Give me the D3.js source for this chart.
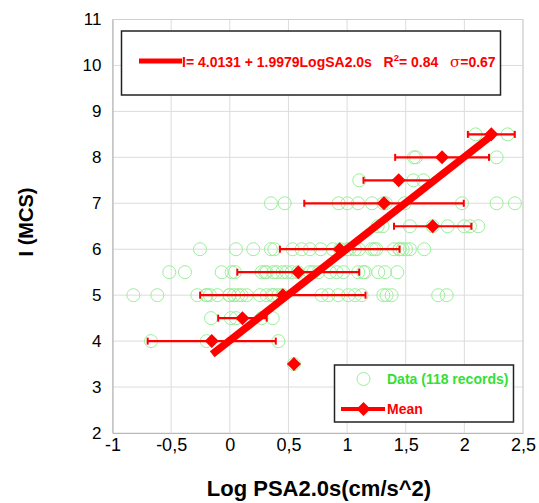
<!DOCTYPE html>
<html>
<head>
<meta charset="utf-8">
<script src="https://cdn.jsdelivr.net/npm/d3@7/dist/d3.min.js"></script>
<style>
  html, body { margin: 0; padding: 0; background: #fff; }
  svg { display: block; font-family: Arial, "Liberation Sans", sans-serif; }
</style>
</head>
<body>
<svg id="chart" width="539" height="503"></svg>
<script>
// Individual records: intensity level and log PSA(2.0 s) values at that level
const levels = [8.5, 8, 7.5, 7, 6.5, 6, 5.5, 5, 4.5, 4, 3.5];
const recordsByLevel = [
  [2.096, 2.369],
  [1.570, 1.587, 2.275],
  [1.104, 1.565, 1.650],
  [0.351, 0.468, 0.928, 1.002, 1.093, 1.212, 1.310, 1.330, 1.491, 1.980, 2.275, 2.431],
  [1.261, 1.303, 1.536, 1.730, 1.857, 1.999, 2.048, 2.119],
  [-0.254, 0.053, 0.200, 0.351, 0.380, 0.536, 0.613, 0.684, 0.775, 0.877, 0.940, 1.000,
   1.020, 1.067, 1.100, 1.210, 1.232, 1.250, 1.400, 1.445, 1.450, 1.474, 1.502, 1.536, 1.658],
  [-0.516, -0.382, -0.069, 0.016, 0.044, 0.272, 0.300, 0.314, 0.371, 0.400, 0.450, 0.485,
   0.528, 0.580, 0.684, 0.712, 0.755, 0.854, 0.911, 0.968, 1.095, 1.138, 1.153, 1.266, 1.323, 1.428],
  [-0.822, -0.618, -0.277, -0.200, -0.197, -0.169, -0.106, -0.004, 0.000, 0.036, 0.072, 0.100,
   0.144, 0.257, 0.314, 0.360, 0.377, 0.413, 0.450, 0.783, 0.840, 0.925, 1.010, 1.067, 1.124,
   1.309, 1.337, 1.380, 1.777, 1.849],
  [-0.160, 0.008, 0.053, 0.272, 0.366],
  [-0.672, -0.197, 0.414],
  [0.547]
];

// Mean log PSA per intensity level with its standard deviation
const meanLevels = [8.5, 8, 7.5, 7, 6.5, 6, 5.5, 5, 4.5, 4, 3.5];
const meanLogPSA = [2.23, 1.81, 1.44, 1.315, 1.73, 0.937, 0.584, 0.452, 0.108, -0.154, 0.547];
const sdLogPSA   = [0.20, 0.40, 0.30, 0.68, 0.33, 0.51, 0.52, 0.705, 0.207, 0.546, 0];

// Regression I = a + b * LogSA2.0s
const fitA = 4.0131, fitB = 1.9979;
const fitRange = [-0.15, 2.24];

const xTicks = [-1, -0.5, 0, 0.5, 1, 1.5, 2, 2.5];
const yTicks = [2, 3, 4, 5, 6, 7, 8, 9, 10, 11];

const svg = d3.select("#chart");
const x = d3.scaleLinear().domain([-1, 2.5]).range([112.5, 523]);
const y = d3.scaleLinear().domain([2, 11]).range([433, 19.5]);
const fmt = d => String(d).replace(".", ",");

// grid
const grid = svg.append("g");
grid.selectAll("line.gx").data(xTicks).join("line")
  .attr("x1", d => x(d)).attr("x2", d => x(d))
  .attr("y1", y(11)).attr("y2", y(2))
  .attr("stroke", "#dcdcdc").attr("stroke-width", 1);
grid.selectAll("line.gy").data(yTicks).join("line")
  .attr("x1", x(-1)).attr("x2", x(2.5))
  .attr("y1", d => y(d)).attr("y2", d => y(d))
  .attr("stroke", "#dcdcdc").attr("stroke-width", 1);

// axes
const xAxis = d3.axisBottom(x).tickValues(xTicks).tickFormat(fmt).tickSize(0).tickPadding(5.5);
const yAxis = d3.axisLeft(y).tickValues(yTicks).tickFormat(d => d).tickSize(0).tickPadding(11);
const gx = svg.append("g").attr("transform", `translate(0,${y(2)})`).call(xAxis);
const gy = svg.append("g").attr("transform", `translate(${x(-1)},0)`).call(yAxis);
[gx, gy].forEach(g => {
  g.attr("font-size", null).attr("font-family", null);
  g.select(".domain").attr("stroke", "#b8b8b8").attr("stroke-width", 1.2);
  g.selectAll("text").attr("fill", "#000");
});
gx.selectAll("text").attr("font-size", 18);
gy.selectAll("text").attr("font-size", 17);

// data records
const records = [];
levels.forEach((lv, i) => recordsByLevel[i].forEach(v => records.push({ x: v, y: lv })));
svg.append("g").selectAll("circle").data(records).join("circle")
  .attr("cx", d => x(d.x)).attr("cy", d => y(d.y)).attr("r", 6.5)
  .attr("fill", "none").attr("stroke", "#9dee9d").attr("stroke-width", 1);

// regression line
svg.append("line")
  .attr("x1", x(fitRange[0])).attr("y1", y(fitA + fitB * fitRange[0]))
  .attr("x2", x(fitRange[1])).attr("y2", y(fitA + fitB * fitRange[1]))
  .attr("stroke", "#ff0000").attr("stroke-width", 7.5);

// mean markers with ±1 sd error bars
const means = meanLevels.map((lv, i) => ({ y: lv, x: meanLogPSA[i], sd: sdLogPSA[i] }));
const bars = svg.append("g").attr("stroke", "#ff0000");
means.filter(d => d.sd > 0).forEach(d => {
  const cy = y(d.y), x0 = x(d.x - d.sd), x1 = x(d.x + d.sd);
  bars.append("line").attr("x1", x0).attr("x2", x1).attr("y1", cy).attr("y2", cy).attr("stroke-width", 2.2);
  [x0, x1].forEach(xx => bars.append("line").attr("x1", xx).attr("x2", xx)
    .attr("y1", cy - 3.5).attr("y2", cy + 3.5).attr("stroke-width", 2));
});
const diamond = d3.symbol().type(d3.symbolSquare).size(98);
svg.append("g").selectAll("path").data(means).join("path")
  .attr("d", diamond)
  .attr("transform", d => `translate(${x(d.x)},${y(d.y)}) rotate(45)`)
  .attr("fill", "#ff0000");

// plot frame (top and right)
svg.append("path")
  .attr("d", `M${x(-1)},${y(11)}H${x(2.5)}V${y(2)}`)
  .attr("fill", "none").attr("stroke", "#cfcfcf").attr("stroke-width", 1);

// axis titles
svg.append("text").attr("x", 319).attr("y", 496).attr("text-anchor", "middle")
  .attr("font-size", 22).attr("font-weight", "bold").text("Log PSA2.0s(cm/s^2)");
svg.append("text").attr("transform", "translate(33,222) rotate(-90)").attr("text-anchor", "middle")
  .attr("font-size", 20).attr("font-weight", "bold").text("I (MCS)");

// regression legend
const lg1 = svg.append("g");
lg1.append("rect").attr("x", 121.5).attr("y", 31).attr("width", 379).attr("height", 64)
  .attr("fill", "#fff").attr("stroke", "#222").attr("stroke-width", 1.5);
lg1.append("line").attr("x1", 139).attr("x2", 182).attr("y1", 61).attr("y2", 61)
  .attr("stroke", "#ff0000").attr("stroke-width", 5);
const eq = lg1.append("text").attr("x", 182).attr("y", 67).attr("fill", "#ff0000")
  .attr("font-size", 14).attr("font-weight", "bold").attr("xml:space", "preserve");
eq.append("tspan").text(`I= ${fitA.toFixed(4)} + ${fitB.toFixed(4)}LogSA2.0s   R`);
eq.append("tspan").attr("font-size", 9.5).attr("dy", -6).text("2");
eq.append("tspan").attr("dy", 6).text("= 0.84   ");
eq.append("tspan").attr("font-weight", "normal").attr("font-family", "'DejaVu Serif', serif").attr("font-size", 15).text("σ");
eq.append("tspan").text("=0.67");

// series legend
const lg2 = svg.append("g");
lg2.append("rect").attr("x", 334.5).attr("y", 365).attr("width", 179).attr("height", 57)
  .attr("fill", "#fff").attr("stroke", "#222").attr("stroke-width", 1.5);
lg2.append("circle").attr("cx", 363.5).attr("cy", 379).attr("r", 6.5)
  .attr("fill", "none").attr("stroke", "#9dee9d").attr("stroke-width", 1);
lg2.append("text").attr("x", 387).attr("y", 384).attr("fill", "#33e033")
  .attr("font-size", 14).attr("font-weight", "bold").text("Data (118 records)");
lg2.append("line").attr("x1", 341).attr("x2", 385).attr("y1", 409).attr("y2", 409)
  .attr("stroke", "#ff0000").attr("stroke-width", 4);
lg2.append("path").attr("d", diamond).attr("transform", "translate(363.5,409) rotate(45)").attr("fill", "#ff0000");
lg2.append("text").attr("x", 387).attr("y", 414).attr("fill", "#ff0000")
  .attr("font-size", 14).attr("font-weight", "bold").text("Mean");
</script>
</body>
</html>
